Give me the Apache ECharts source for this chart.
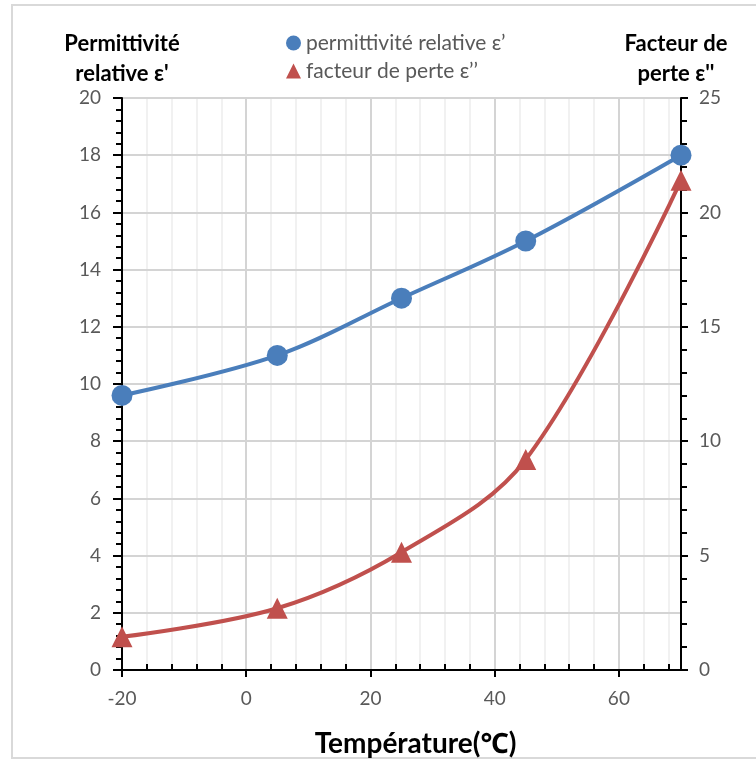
<!DOCTYPE html>
<html>
<head>
<meta charset="utf-8">
<script src="https://cdn.jsdelivr.net/npm/echarts@6/dist/echarts.min.js"></script>
<style>
  html, body { margin: 0; padding: 0; background: #fff; overflow: hidden; }
  #chart { width: 756px; height: 761px; }
</style>
</head>
<body>
<div id="chart"></div>
<script>
// température (°C)
const temperatures = [-20, 5, 25, 45, 70]
// permittivité relative ε'
const permittivite = [9.6, 11, 13, 15, 18]
// facteur de perte ε''
const facteurPerte = [1.45, 2.7, 5.15, 9.2, 21.4]

const nomPermittivite = 'permittivité relative ε’'
const nomPerte = 'facteur de perte ε’’'

const font = 'Lato, "Noto Sans", sans-serif'
const bleu = '#4a7ebb'
const rouge = '#c0504d'

// petit axe sans libellé, juste pour les graduations
function tickAxis(extra) {
  return Object.assign({
    type: 'value',
    axisLabel: { show: false },
    axisLine: { show: false, onZero: false },
    splitLine: { show: false }
  }, extra)
}

const option = {
  backgroundColor: '#fff',
  animation: false,
  textStyle: { fontFamily: font },
  graphic: [{
    type: 'rect',
    shape: { x: 12, y: 5, width: 800, height: 753 },
    style: { fill: 'none', stroke: '#d9d9d9', lineWidth: 2 },
    z: -1
  }],
  legend: {
    orient: 'vertical',
    left: 286,
    top: 30,
    padding: 0,
    itemGap: 2,
    itemWidth: 15,
    itemHeight: 15,
    textStyle: { fontSize: 21, color: '#595959', fontFamily: font, lineHeight: 26 },
    data: [
      { name: nomPermittivite, icon: 'circle' },
      { name: nomPerte, icon: 'triangle' }
    ]
  },
  grid: {
    left: 122, right: 75, top: 98, bottom: 91,
    outerBoundsMode: 'none',
    show: true, borderColor: '#000', borderWidth: 2
  },
  xAxis: [
    {
      type: 'value', min: -20, max: 70, interval: 20, position: 'bottom',
      name: 'Température(℃)',
      nameLocation: 'middle',
      nameGap: 60,
      nameTextStyle: { fontSize: 28, fontWeight: 'bold', color: '#000', fontFamily: font, padding: [0, 0, 0, 28] },
      axisLine: { onZero: false, lineStyle: { color: '#000', width: 2 } },
      axisTick: { inside: false, length: 7, lineStyle: { color: '#000', width: 2 } },
      axisLabel: { fontSize: 19, color: '#595959', margin: 19, showMaxLabel: false },
      splitLine: { show: true, lineStyle: { color: '#d4d4d4', width: 2 } },
      z: 3
    },
    // graduations mineures vers l'intérieur + quadrillage mineur
    tickAxis({
      min: -20, max: 70, interval: 4, position: 'bottom',
      axisTick: { inside: true, length: 6, lineStyle: { color: '#000', width: 2 } },
      splitLine: { show: true, lineStyle: { color: '#ededed', width: 1.5 } },
      z: 1
    }),
    // partie intérieure des graduations majeures
    tickAxis({
      min: -20, max: 70, interval: 20, position: 'bottom',
      axisTick: { inside: true, length: 7, lineStyle: { color: '#000', width: 2 } }
    })
  ],
  yAxis: [
    {
      type: 'value', min: 0, max: 20, interval: 2, position: 'left',
      name: 'Permittivité\nrelative ε\'',
      nameLocation: 'end',
      nameGap: 8,
      nameTextStyle: { fontSize: 22, fontWeight: 'bold', color: '#000', fontFamily: font, lineHeight: 30, align: 'center' },
      axisLine: { show: true, onZero: false, lineStyle: { color: '#000', width: 2 } },
      axisTick: { inside: false, length: 9, lineStyle: { color: '#000', width: 2 } },
      axisLabel: { fontSize: 19, color: '#595959', margin: 21 },
      splitLine: { show: true, lineStyle: { color: '#d4d4d4', width: 2 } },
      z: 3
    },
    {
      type: 'value', min: 0, max: 25, interval: 5, position: 'right',
      name: 'Facteur de\nperte ε\'\'',
      nameLocation: 'end',
      nameGap: 8,
      nameTextStyle: { fontSize: 22, fontWeight: 'bold', color: '#000', fontFamily: font, lineHeight: 30, align: 'center', padding: [0, 10, 0, 0] },
      axisLine: { show: true, onZero: false, lineStyle: { color: '#000', width: 2 } },
      axisTick: { inside: false, length: 7, lineStyle: { color: '#000', width: 2 } },
      axisLabel: { fontSize: 19, color: '#595959', margin: 18 },
      splitLine: { show: false },
      z: 3
    },
    tickAxis({ min: 0, max: 20, interval: 2, position: 'left',
      axisTick: { inside: true, length: 9, lineStyle: { color: '#000', width: 2 } } }),
    tickAxis({ min: 0, max: 20, interval: 0.4, position: 'left',
      axisTick: { inside: false, length: 6, lineStyle: { color: '#000', width: 2 } } }),
    tickAxis({ min: 0, max: 25, interval: 5, position: 'right',
      axisTick: { inside: true, length: 8, lineStyle: { color: '#000', width: 2 } } }),
    tickAxis({ min: 0, max: 25, interval: 1, position: 'right',
      axisTick: { inside: false, length: 6, lineStyle: { color: '#000', width: 2 } } })
  ],
  series: [
    {
      name: nomPermittivite,
      type: 'line',
      xAxisIndex: 0,
      yAxisIndex: 0,
      smooth: 0.35,
      smoothConstraint: false,
      symbol: 'circle',
      symbolSize: 21,
      data: temperatures.map((t, i) => [t, permittivite[i]]),
      lineStyle: { color: bleu, width: 4 },
      itemStyle: { color: bleu },
      z: 5
    },
    {
      name: nomPerte,
      type: 'line',
      xAxisIndex: 0,
      yAxisIndex: 1,
      smooth: 0.35,
      smoothConstraint: false,
      symbol: 'triangle',
      symbolSize: 21,
      data: temperatures.map((t, i) => [t, facteurPerte[i]]),
      lineStyle: { color: rouge, width: 4 },
      itemStyle: { color: rouge },
      z: 5
    }
  ]
}

const chart = echarts.init(document.getElementById('chart'))
chart.setOption(option)
</script>
</body>
</html>
